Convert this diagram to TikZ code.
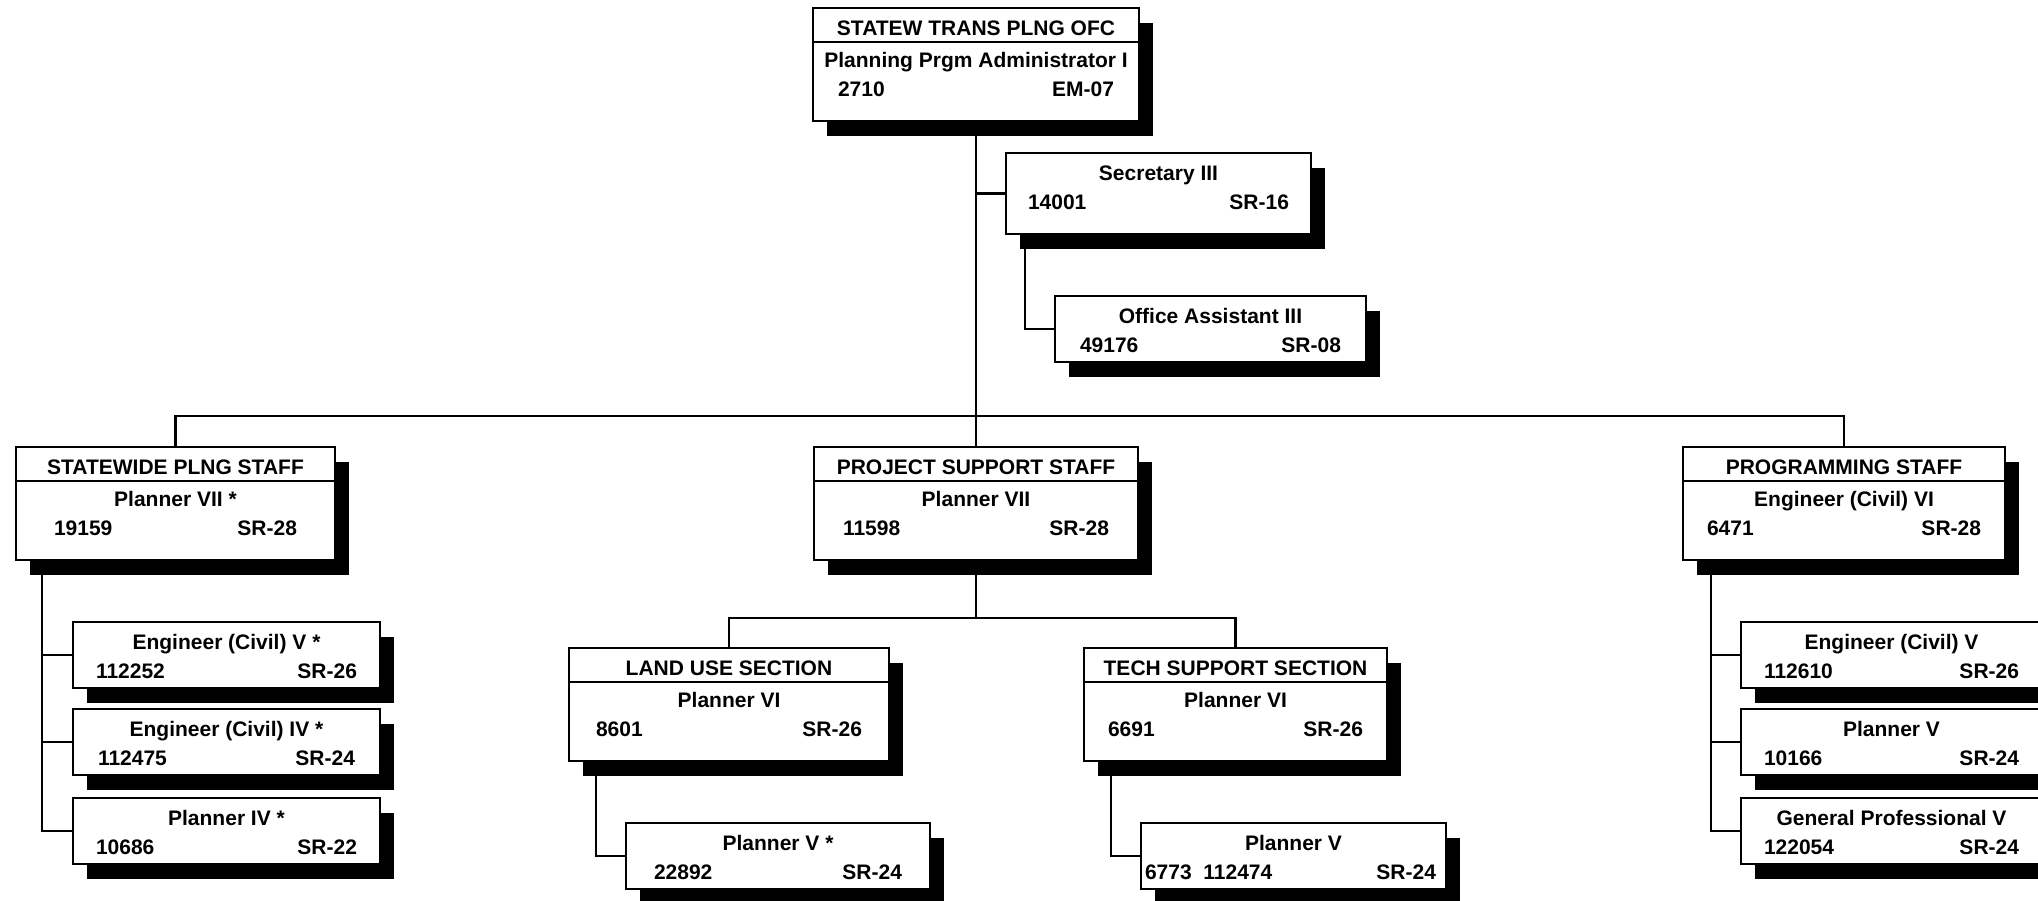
\documentclass[tikz,border=0pt]{standalone}
\usepackage{fontspec}
\setmainfont{Liberation Sans}
\usetikzlibrary{shadows,backgrounds}
\tikzset{
  x=1pt, y=-1pt,
  orgbox/.style={draw, line width=2.5pt, fill=white, rectangle, inner sep=0pt, outer sep=0pt,
    drop shadow={shadow xshift=14pt, shadow yshift=-15pt, fill=black, opacity=1}},
  boxline/.style={line width=2.5pt},
  conn/.style={line width=2.2pt},
  txt/.style={font=\fontsize{21}{25}\selectfont\bfseries, inner sep=0pt, outer sep=0pt, anchor=base}
}
% name, x, y, w, header, title, num, grade, inset
\newcommand{\OrgHead}[9]{%
  \node[orgbox, minimum width=#4pt, minimum height=113pt, anchor=north west] (#1) at (#2,#3) {};
  \draw[boxline] ([yshift=-34pt]#1.north west) -- ([yshift=-34pt]#1.north east);
  \node[txt] (#1-h) at ([yshift=-27pt]#1.north) {#5};
  \node[txt] (#1-t) at ([yshift=-59pt]#1.north) {#6};
  \node[txt, anchor=base west] (#1-n) at ([xshift=#9pt, yshift=-88pt]#1.north west) {#7};
  \node[txt, anchor=base east] (#1-g) at ([xshift=-#9pt, yshift=-88pt]#1.north east) {#8};
}
% name, x, y, w, h, title, num, grade, inset
\newcommand{\OrgPlain}[9]{%
  \node[orgbox, minimum width=#4pt, minimum height=#5pt, anchor=north west] (#1) at (#2,#3) {};
  \node[txt] (#1-t) at ([yshift=-27pt]#1.north) {#6};
  \node[txt, anchor=base west] (#1-n) at ([xshift=#9pt, yshift=-56pt]#1.north west) {#7};
  \node[txt, anchor=base east] (#1-g) at ([xshift=-#9pt, yshift=-56pt]#1.north east) {#8};
}
\begin{document}
\begin{tikzpicture}
\useasboundingbox (0,0) rectangle (2038,900);
\clip (0,0) rectangle (2038,900);

\OrgHead{t}{813}{8}{326}{STATEW TRANS PLNG OFC}{Planning Prgm Administrator I}{2710}{EM-07}{25}
\OrgPlain{s}{1006}{153}{305}{81}{Secretary III}{14001}{SR-16}{22}
\OrgPlain{o}{1055}{296}{311}{66}{Office Assistant III}{49176}{SR-08}{25}

\OrgHead{sw}{16}{447}{319}{STATEWIDE PLNG STAFF}{Planner VII *}{19159}{SR-28}{38}
\OrgHead{p}{814}{447}{324}{PROJECT SUPPORT STAFF}{Planner VII}{11598}{SR-28}{29}
\OrgHead{pg}{1683}{447}{322}{PROGRAMMING STAFF}{Engineer (Civil) VI}{6471}{SR-28}{24}

\OrgPlain{sw1}{73}{622}{307}{66}{Engineer (Civil) V *}{112252}{SR-26}{23}
\OrgPlain{sw2}{73}{709}{307}{66}{Engineer (Civil) IV *}{112475}{SR-24}{25}
\OrgPlain{sw3}{73}{798}{307}{66}{Planner IV *}{10686}{SR-22}{23}

\OrgPlain{pg1}{1741}{622}{301}{66}{Engineer (Civil) V}{112610}{SR-26}{23}
\OrgPlain{pg2}{1741}{709}{301}{66}{Planner V}{10166}{SR-24}{23}
\OrgPlain{pg3}{1741}{798}{301}{66}{General Professional V}{122054}{SR-24}{23}

\OrgHead{lu}{569}{648}{320}{LAND USE SECTION}{Planner VI}{8601}{SR-26}{27}
\OrgHead{ts}{1084}{648}{303}{TECH SUPPORT SECTION}{Planner VI}{6691}{SR-26}{24}

\OrgPlain{luc}{626}{823}{304}{66}{Planner V *}{22892}{SR-24}{28}

\node[orgbox, minimum width=305pt, minimum height=66pt, anchor=north west] (tsc) at (1141,823) {};
\node[txt] (tsc-t) at ([yshift=-27pt]tsc.north) {Planner V};
\node[txt, anchor=base west] (tsc-n) at ([xshift=4pt, yshift=-56pt]tsc.north west) {6773\ \ 112474};
\node[txt, anchor=base east] (tsc-g) at ([xshift=-10pt, yshift=-56pt]tsc.north east) {SR-24};

\begin{scope}[on background layer]
  \draw[conn] (t.south) -- (p.north);
  \draw[conn] (s.west) -- (s.west -| t.south);
  \draw[conn] ([xshift=19pt]s.south west) |- (o.west);
  \coordinate (hbar) at (976,416);
  \draw[conn] (sw.north) |- (hbar) -| (pg.north);
  \coordinate (pbar) at (976,618);
  \draw[conn] (p.south) -- (pbar);
  \draw[conn] (lu.north) |- (pbar) -| (ts.north);
  \coordinate (swbus) at ([xshift=26pt]sw.south west);
  \draw[conn] (swbus) |- (sw3.west);
  \draw[conn] (sw1.west) -- (sw1.west -| swbus);
  \draw[conn] (sw2.west) -- (sw2.west -| swbus);
  \coordinate (pgbus) at ([xshift=28pt]pg.south west);
  \draw[conn] (pgbus) |- (pg3.west);
  \draw[conn] (pg1.west) -- (pg1.west -| pgbus);
  \draw[conn] (pg2.west) -- (pg2.west -| pgbus);
  \draw[conn] ([xshift=27pt]lu.south west) |- (luc.west);
  \draw[conn] ([xshift=27pt]ts.south west) |- (tsc.west);
\end{scope}
\end{tikzpicture}
\end{document}
